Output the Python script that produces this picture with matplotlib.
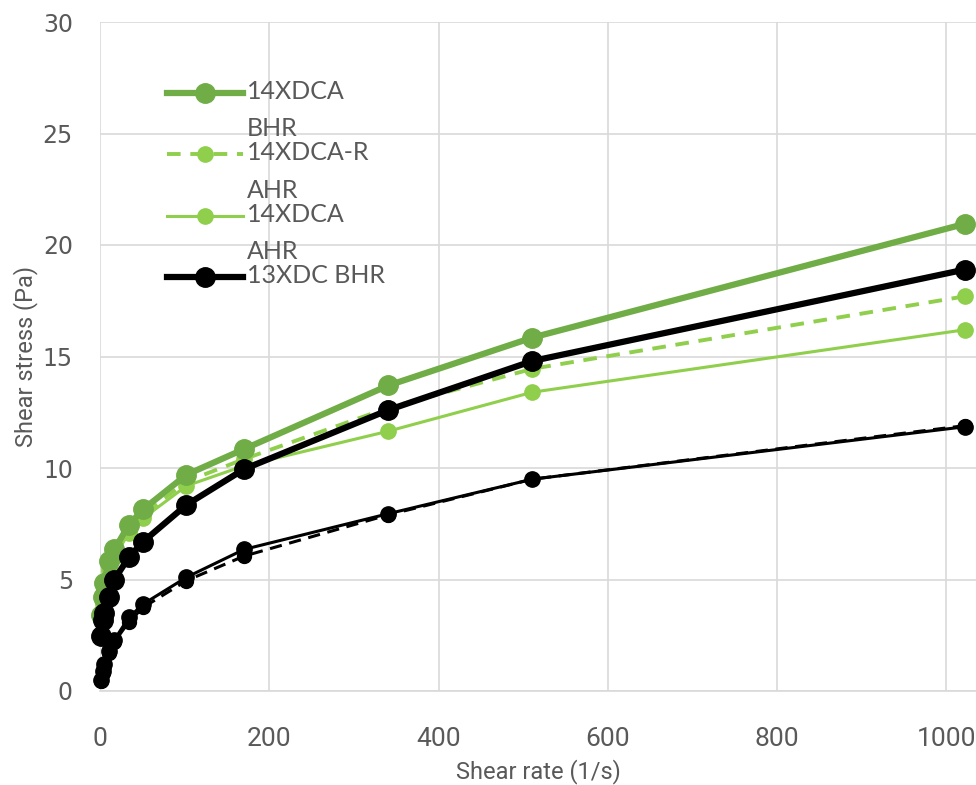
import matplotlib
matplotlib.use('Agg')
import matplotlib.pyplot as plt
from matplotlib.lines import Line2D

# shear rates (1/s)
shear_rate = [1022, 511, 340.6, 170.3, 102.2, 51.1, 34.1, 17.0, 10.2, 5.1, 3.4, 1.7]

# shear stress (Pa)
xdca14_bhr = [20.95, 15.85, 13.7, 10.85, 9.7, 8.15, 7.45, 6.35, 5.85, 4.85, 4.2, 3.4]
xdca14r_ahr = [17.7, 14.45, 12.7, 10.4, 9.4, 7.9, 7.2, 6.1, 5.5, 4.6, 4.0, 3.3]
xdca14_ahr = [16.2, 13.4, 11.65, 10.1, 9.2, 7.75, 7.1, 6.0, 5.4, 4.5, 3.9, 3.2]
xdc13_bhr = [18.9, 14.8, 12.6, 9.95, 8.35, 6.7, 6.0, 5.0, 4.2, 3.5, 3.2, 2.45]
xdc13_ahr = [11.85, 9.5, 7.95, 6.35, 5.1, 3.9, 3.3, 2.3, 1.8, 1.2, 0.9, 0.5]
xdc13r_ahr = [11.9, 9.5, 7.9, 6.05, 4.95, 3.75, 3.1, 2.2, 1.7, 1.1, 0.8, 0.45]

dark_green = '#70AD47'
light_green = '#8FCF4C'
grid_col = '#D9D9D9'
text_col = '#595959'
narrow_fam = ['Roboto', 'DejaVu Sans']

fig = plt.figure(figsize=(9.76, 7.85), dpi=100)
ax = fig.add_axes([100/976, 94/785, 876/976, 669/785])

# thin black series (not in legend)
ax.plot(shear_rate, xdc13r_ahr, color='black', lw=2.2, ls=(0, (4, 2.5)), marker='o', ms=10, clip_on=False, zorder=3)
ax.plot(shear_rate, xdc13_ahr, color='black', lw=2.2, marker='o', ms=11, clip_on=False, zorder=3)

# legend series
ax.plot(shear_rate, xdca14_ahr, color=light_green, lw=2.2, marker='o', ms=11, clip_on=False, zorder=4)
ax.plot(shear_rate, xdca14r_ahr, color=light_green, lw=2.8, ls=(0, (3.5, 2.5)), marker='o', ms=11, clip_on=False, zorder=4)
ax.plot(shear_rate, xdca14_bhr, color=dark_green, lw=4.5, marker='o', ms=14, clip_on=False, zorder=5)
ax.plot(shear_rate, xdc13_bhr, color='black', lw=4.5, marker='o', ms=14, clip_on=False, zorder=6)

ax.set_xlim(0, 1035)
ax.set_ylim(0, 30)
ax.set_xticks([0, 200, 400, 600, 800, 1000])
ax.set_yticks([0, 5, 10, 15, 20, 25, 30])
ax.grid(True, color=grid_col, lw=1.2)
ax.set_axisbelow(True)
for s in ['top', 'right', 'left']:
    ax.spines[s].set_visible(False)
ax.spines['bottom'].set_color(grid_col)
ax.spines['bottom'].set_linewidth(1.2)
ax.tick_params(length=0, colors=text_col)
ax.tick_params(axis='x', pad=26)
ax.tick_params(axis='y', pad=19.5)

for lab in ax.get_xticklabels():
    lab.set_family(narrow_fam)
    lab.set_fontsize(19)
for lab in ax.get_yticklabels():
    lab.set_family('DejaVu Sans')
    lab.set_fontsize(17)

ax.set_xlabel('Shear rate (1/s)', fontsize=17, color=text_col,
              family=narrow_fam, labelpad=6)
ax.set_ylabel('Shear stress (Pa)', fontsize=17, color=text_col,
              family=narrow_fam, labelpad=3)

# legend drawn by hand (Excel-style wrapped labels)
entries = [
    ('14XDCA\nBHR', dark_green, '-', 4.5, 14),
    ('14XDCA-R\nAHR', light_green, (0, (3.5, 2.5)), 2.8, 11),
    ('14XDCA\nAHR', light_green, '-', 2.2, 11),
    ('13XDC BHR', 'black', '-', 4.5, 14),
]
x0, x1, xt = 67/876, 143/876, 147/876
for i, (lab, col, ls, lw, ms) in enumerate(entries):
    yy = (691 - 93 - i * 61.3) / 669
    ax.add_line(Line2D([x0, x1], [yy, yy], color=col, ls=ls, lw=lw,
                       transform=ax.transAxes, clip_on=False, zorder=7))
    ax.add_line(Line2D([(x0 + x1) / 2], [yy], color=col, marker='o', ms=ms,
                       transform=ax.transAxes, clip_on=False, zorder=7))
    ax.text(xt, yy + 13 / 669, lab, transform=ax.transAxes, va='top', ha='left',
            fontsize=18, color=text_col, family=['Lato', 'DejaVu Sans'],
            linespacing=1.75, zorder=8)

fig.savefig('out.png', dpi=100)
